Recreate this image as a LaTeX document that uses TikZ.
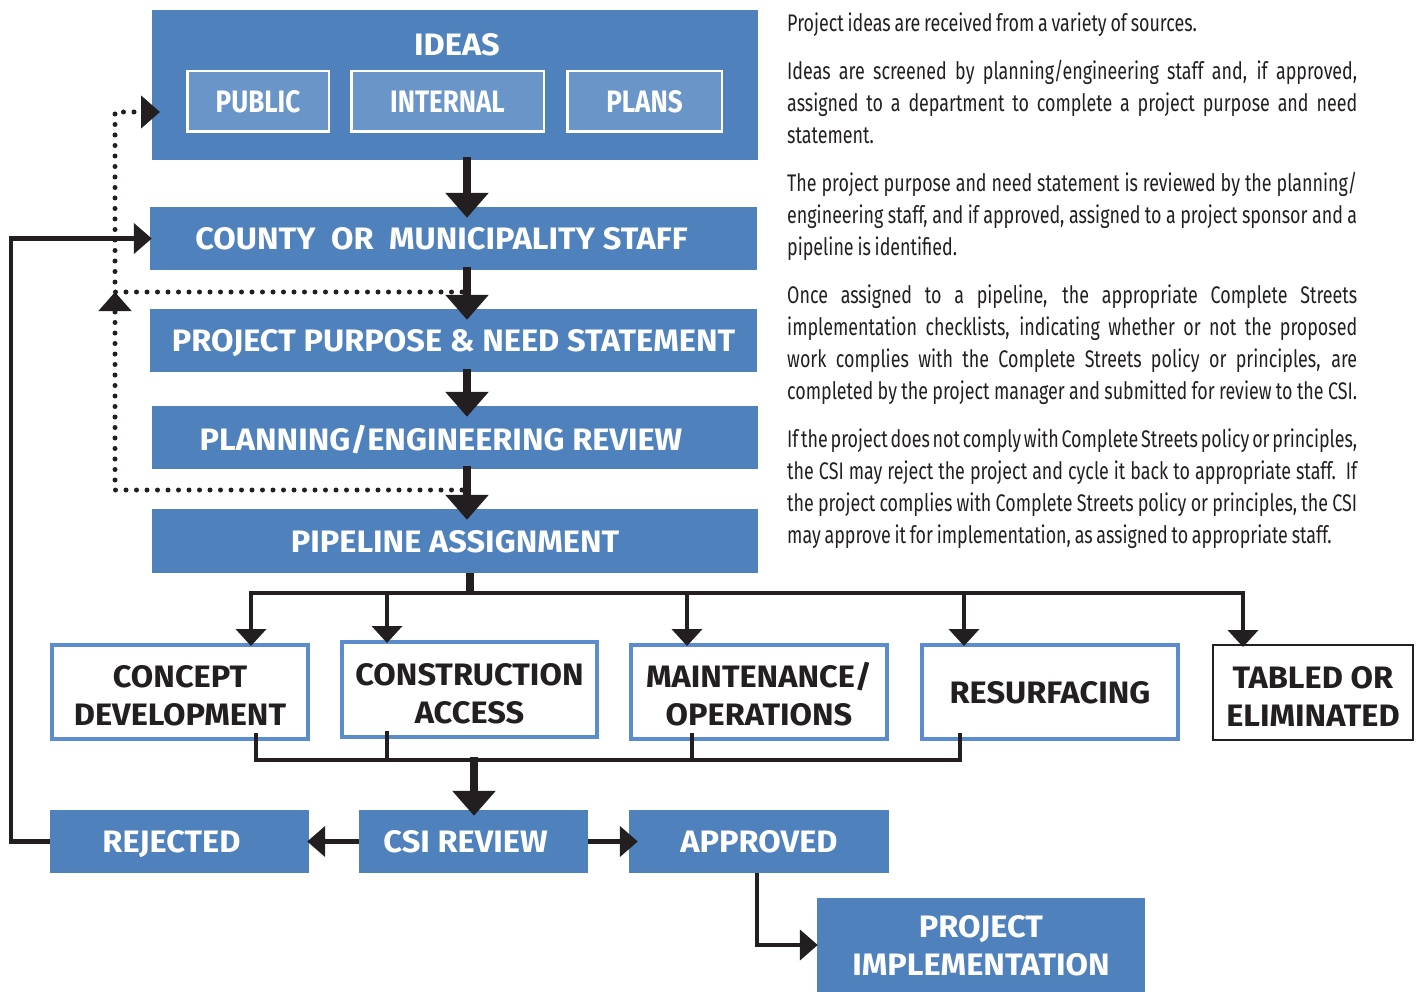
\documentclass[tikz,border=0pt]{standalone}
\usepackage{fontspec}
\setmainfont{Fira Sans}
\newfontfamily\labelfont[FakeStretch=1.05]{Fira Sans}
\newfontfamily\tagfont[FakeStretch=0.84]{Fira Sans}
\newfontfamily\notefont[FakeStretch=0.745, WordSpace={0.8,1.5,2}]{Fira Sans}
\usetikzlibrary{positioning, arrows.meta, calc}

\definecolor{boxblue}{RGB}{79,129,189}
\definecolor{tagblue}{RGB}{106,149,201}
\definecolor{edgeblue}{RGB}{91,141,204}
\definecolor{ink}{RGB}{35,31,32}

\newcommand{\fullline}[1]{\makebox[570pt][s]{#1}}
\newcommand{\tallline}{\rule{0pt}{29pt}}

\begin{document}
\begin{tikzpicture}[
  x=1pt, y=-1pt,
  stage/.style={fill=boxblue, text=white, inner sep=0pt, align=center, text depth=0pt,
                font=\labelfont\bfseries\fontsize{31}{38}\selectfont},
  tag/.style={fill=tagblue, draw=white, line width=2.5pt, text=white, inner sep=0pt,
              text depth=0pt, minimum height=60.5pt,
              font=\tagfont\bfseries\fontsize{31}{36}\selectfont},
  track/.style={fill=white, draw=edgeblue, line width=4pt, text=ink, inner sep=0pt,
                align=center, text depth=0pt, minimum width=256pt, minimum height=94pt,
                font=\labelfont\bfseries\fontsize{31}{38}\selectfont},
  dropbox/.style={track, draw=ink, line width=2pt, minimum width=200pt, minimum height=95pt},
  flow/.style={draw=ink, line width=8pt, shorten >=-11pt, shorten <=-3pt,
               -{Triangle[width=42pt,length=25pt]}},
  branch/.style={draw=ink, line width=4pt, shorten >=-3pt, -{Triangle[width=30pt,length=17pt]}},
  side/.style={draw=ink, line width=4.5pt, -{Triangle[width=30pt,length=18pt]}},
  feed/.style={draw=ink, line width=5pt, dash pattern=on 0pt off 10.5pt, line cap=round,
               -{Triangle[width=32pt,length=19pt]}},
  busline/.style={draw=ink, line width=4pt, line cap=rect},
  note/.style={anchor=north west, inner sep=0pt, align=left, text=ink,
               font=\notefont\fontsize{24}{32}\selectfont},
]
\useasboundingbox (0,0) rectangle (1421,992);

% Ideas and its sources
\node[stage, minimum width=606pt, minimum height=150pt] (ideas) at (455,85) {};
\node[stage] (ideastitle) at (457,44) {IDEAS};
\node[tag, minimum width=141.5pt] (public) at (258,101.5) {PUBLIC};
\node[tag, minimum width=192.5pt] (internal) at (447.5,101.5) {INTERNAL};
\node[tag, minimum width=154.5pt] (plans) at (644.5,101.5) {PLANS};

% Main column
\node[stage, minimum width=607pt, minimum height=63pt] (county) at (453.5,238.5)
  {COUNTY\ \ OR\ \ MUNICIPALITY STAFF\hspace*{24pt}};
\node[stage, minimum width=607pt, minimum height=63pt] (purpose) at (453.5,340.5)
  {PROJECT PURPOSE \& NEED STATEMENT};
\node[stage, minimum width=606pt, minimum height=63pt] (review) at (455,437.5)
  {PLANNING/ENGINEERING REVIEW\hspace*{28pt}};
\node[stage, minimum width=606pt, minimum height=64pt] (pipeline) at (455,541)
  {PIPELINE ASSIGNMENT};

% Pipelines
\node[track] (concept) at (180,692) {\tallline CONCEPT\\DEVELOPMENT};
\node[track, minimum width=255pt, minimum height=95pt] (construct) at (469.5,689.5)
  {\tallline CONSTRUCTION\\ACCESS};
\node[track] (maint) at (759,692) {\tallline MAINTENANCE/\\OPERATIONS};
\node[track] (resurf) at (1050,692) {RESURFACING};
\node[dropbox] (tabled) at (1313,692.5) {\tallline TABLED OR\\ELIMINATED};

% CSI outcome row
\node[stage, minimum width=259pt, minimum height=63pt] (rejected) at (179.5,841.5)
  {REJECTED\hspace*{16pt}};
\node[stage, minimum width=229pt, minimum height=63pt] (csi) at (473.5,841.5)
  {CSI REVIEW\hspace*{16pt}};
\node[stage, minimum width=260pt, minimum height=63pt] (approved) at (759,841.5) {APPROVED};
\node[stage, minimum width=328pt, minimum height=94pt] (impl) at (981,945)
  {PROJECT\\IMPLEMENTATION};

% Main flow
\coordinate (spine) at (467,0);
\draw[flow] (ideas.south -| spine) -- (county.north -| spine);
\draw[flow] (county.south -| spine) -- (purpose.north -| spine);
\draw[flow] (purpose.south -| spine) -- (review.north -| spine);
\draw[flow] (review.south -| spine) -- (pipeline.north -| spine);

% Dotted feedback loops
\coordinate (loopx) at (115,0);
\coordinate (fbtop) at (462,292);
\coordinate (fbbot) at (462,490);
\coordinate (ideasin) at (160,112);
\draw[feed] (fbbot) -- (fbbot -| loopx) -- (fbtop -| loopx);
\draw[feed] (fbtop) -- (fbtop -| loopx) -- (loopx |- ideasin) -- (ideasin);

% Split into pipelines
\coordinate (bus) at (470,593);
\draw[busline, line width=8pt, line cap=butt] (pipeline.south -| bus) -- (bus);
\foreach \nd/\dx in {concept/71, construct/-82.5, maint/-72, resurf/-86, tabled/-70} {
  \coordinate (top-\nd) at ([xshift=\dx pt]\nd.north);
  \draw[branch] (top-\nd |- bus) -- (top-\nd);
}
\draw[busline] (top-concept |- bus) -- (top-tabled |- bus);

% Merge into CSI review
\coordinate (merge) at (474,760);
\foreach \nd/\dx in {concept/76, construct/-82.5, maint/-67, resurf/-90} {
  \coordinate (bot-\nd) at ([xshift=\dx pt]\nd.south);
  \draw[busline, line cap=butt] ([yshift=8pt]bot-\nd) -- (bot-\nd |- merge);
}
\draw[busline] (bot-concept |- merge) -- (bot-resurf |- merge);
\draw[flow, shorten >=-6pt] (merge) -- (csi.north -| merge);

% Outcomes
\draw[side, shorten >=-2pt] (csi.west) -- (rejected.east);
\draw[side, shorten >=-9pt] (csi.east) -- (approved.west);
\draw[side, shorten >=-1pt] ([xshift=-2pt]approved.south) |- (impl.west);
\coordinate (retx) at (11,0);
\draw[side, shorten >=-2pt] (rejected.west) -- (rejected.west -| retx) |- (county.west);

% Description
\node[note] (notes) at (787,9) {%
  \rule{0pt}{22pt}Project ideas are received from a variety of sources.\\[16pt]
  \fullline{Ideas are screened by planning/engineering staff and, if approved,}\\
  \fullline{assigned to a department to complete a project purpose and need}\\
  statement.\\[16pt]
  \fullline{The project purpose and need statement is reviewed by the planning/}\\
  \fullline{engineering staff, and if approved, assigned to a project sponsor and a}\\
  pipeline is identified.\\[16pt]
  \fullline{Once assigned to a pipeline, the appropriate Complete Streets}\\
  \fullline{implementation checklists, indicating whether or not the proposed}\\
  \fullline{work complies with the Complete Streets policy or principles, are}\\
  \fullline{completed by the project manager and submitted for review to the CSI.}\\[16pt]
  \fullline{If the project does not comply with Complete Streets policy or principles,}\\
  \fullline{the CSI may reject the project and cycle it back to appropriate staff.\ \ If}\\
  \fullline{the project complies with Complete Streets policy or principles, the CSI}\\
  may approve it for implementation, as assigned to appropriate staff.};
\end{tikzpicture}
\end{document}
